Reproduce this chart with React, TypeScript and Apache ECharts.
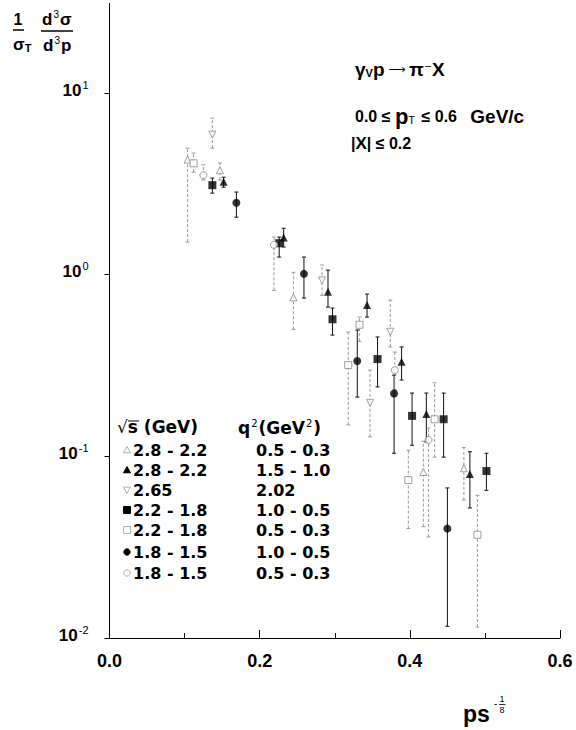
import React, { useEffect, useRef } from "react";
import * as echarts from "echarts";

// Legend categories
const sqrtSRanges = ["2.8 - 2.2", "2.8 - 2.2", "2.65", "2.2 - 1.8", "2.2 - 1.8", "1.8 - 1.5", "1.8 - 1.5"];
const q2Ranges = ["0.5 - 0.3", "1.5 - 1.0", "2.02", "1.0 - 0.5", "0.5 - 0.3", "1.0 - 0.5", "0.5 - 0.3"];

// Data points: [ps^(-1/8), value, errLow, errHigh]
const openTriangles = [
  [0.104, 4.3, 1.51, 4.97],
  [0.147, 3.76, 3.32, 4.12],
  [0.245, 0.75, 0.5, 1.03],
  [0.418, 0.082, 0.041, 0.121],
  [0.472, 0.086, 0.0575, 0.112],
];
const filledTriangles = [
  [0.152, 3.25, 3.03, 3.44],
  [0.232, 1.6, 1.42, 1.8],
  [0.291, 0.805, 0.663, 1.06],
  [0.343, 0.68, 0.584, 0.782],
  [0.389, 0.332, 0.263, 0.4],
  [0.422, 0.171, 0.12, 0.223],
  [0.48, 0.08, 0.052, 0.106],
];
const openInvTriangles = [
  [0.137, 5.9, 4.97, 7.27],
  [0.283, 0.93, 0.77, 1.13],
  [0.347, 0.197, 0.128, 0.298],
  [0.374, 0.485, 0.4, 0.725],
];
const filledSquares = [
  [0.137, 3.11, 2.81, 3.4],
  [0.226, 1.49, 1.25, 1.61],
  [0.297, 0.568, 0.465, 0.655],
  [0.357, 0.343, 0.241, 0.454],
  [0.403, 0.167, 0.115, 0.223],
  [0.445, 0.16, 0.099, 0.223],
  [0.502, 0.083, 0.065, 0.104],
];
const openSquares = [
  [0.112, 4.1, 3.67, 4.67],
  [0.318, 0.318, 0.149, 0.483],
  [0.333, 0.53, 0.43, 0.584],
  [0.398, 0.074, 0.04, 0.108],
  [0.433, 0.16, 0.099, 0.254],
  [0.49, 0.037, 0.0115, 0.061],
];
const filledCircles = [
  [0.169, 2.49, 2.07, 2.85],
  [0.259, 1.01, 0.743, 1.25],
  [0.33, 0.335, 0.212, 0.496],
  [0.379, 0.222, 0.104, 0.28],
  [0.45, 0.04, 0.0116, 0.067],
];
const openCircles = [
  [0.125, 3.53, 3.32, 4.02],
  [0.219, 1.46, 0.82, 1.61],
  [0.38, 0.298, 0.232, 0.375],
  [0.425, 0.123, 0.036, 0.143],
];

const xTickValues = [0, 0.2, 0.4, 0.6];
const yMin = 0.01;
const yMax = 10;

// Style per series (same order as legend rows)
const seriesData = [openTriangles, filledTriangles, openInvTriangles, filledSquares, openSquares, filledCircles, openCircles];
const seriesStyle = [
  { symbol: "triangle", rotate: 0, filled: false },
  { symbol: "triangle", rotate: 0, filled: true },
  { symbol: "triangle", rotate: 180, filled: false },
  { symbol: "rect", rotate: 0, filled: true },
  { symbol: "rect", rotate: 0, filled: false },
  { symbol: "circle", rotate: 0, filled: true },
  { symbol: "circle", rotate: 0, filled: false },
];

const NARROW = "'Liberation Sans Narrow', 'Liberation Sans', Arial, sans-serif";
const SANS = "'Liberation Sans', Arial, sans-serif";
const WIDE = "'DejaVu Sans', sans-serif";

function errorBarSeries(pts: number[][], filled: boolean) {
  const color = filled ? "#111" : "#9a9a9a";
  return {
    type: "custom",
    silent: true,
    z: 1,
    data: pts.map((p) => [p[0], p[2], p[3]]),
    encode: { x: 0, y: [1, 2] },
    renderItem: (_params: any, api: any) => {
      const x = api.value(0);
      const a = api.coord([x, api.value(1)]);
      const b = api.coord([x, api.value(2)]);
      const w = 2;
      const st = { stroke: color, lineWidth: 1, lineDash: filled ? null : [3, 2] };
      const cap = { stroke: color, lineWidth: 1 };
      return {
        type: "group",
        children: [
          { type: "line", shape: { x1: a[0], y1: a[1], x2: b[0], y2: b[1] }, style: st },
          { type: "line", shape: { x1: a[0] - w, y1: a[1], x2: a[0] + w, y2: a[1] }, style: cap },
          { type: "line", shape: { x1: b[0] - w, y1: b[1], x2: b[0] + w, y2: b[1] }, style: cap },
        ],
      };
    },
  };
}

function markerSeries(pts: number[][], st: { symbol: string; rotate: number; filled: boolean }) {
  return {
    type: "scatter",
    z: 3,
    silent: true,
    symbol: st.symbol,
    symbolRotate: st.rotate,
    symbolSize: st.filled ? 8 : 7,
    itemStyle: st.filled
      ? { color: "#000" }
      : { color: "#fff", borderColor: "#888", borderWidth: 1 },
    data: pts.map((p) => [p[0], p[1]]),
  };
}

function legendGraphics() {
  const rowsY = [450, 470, 490, 510, 530, 552, 573];
  const items: any[] = [];
  items.push({
    type: "text",
    left: 117,
    top: 418,
    style: {
      text: "{r|√}{o|s}{t| (GeV)}",
      rich: {
        r: { fontFamily: WIDE, fontSize: 17, fill: "#000" },
        o: { fontFamily: WIDE, fontSize: 17, fontWeight: "bold", fill: "#000" },
        t: { fontFamily: WIDE, fontSize: 17, fontWeight: "bold", fill: "#000" },
      },
    },
  });
  items.push({ type: "line", shape: { x1: 128, y1: 421, x2: 139, y2: 421 }, style: { stroke: "#000", lineWidth: 1 } });
  items.push({
    type: "text",
    left: 238,
    top: 418,
    style: {
      text: "{t|q}{s|2}{t|(GeV}{s|2}{t|)}",
      rich: {
        t: { fontFamily: WIDE, fontSize: 17, fontWeight: "bold", fill: "#000" },
        s: { fontFamily: WIDE, fontSize: 10, fill: "#000", padding: [0, 1, 9, 1] },
      },
    },
  });
  rowsY.forEach((y, i) => {
    const st = seriesStyle[i];
    const fill = st.filled ? "#000" : "#fff";
    const stroke = st.filled ? "#000" : "#b0b0b0";
    const cx = 127;
    if (st.symbol === "triangle") {
      const s = 3.5;
      const pts =
        st.rotate === 0
          ? [[cx, y - s], [cx + s, y + s * 0.8], [cx - s, y + s * 0.8]]
          : [[cx, y + s], [cx + s, y - s * 0.8], [cx - s, y - s * 0.8]];
      items.push({ type: "polygon", shape: { points: pts }, style: { fill, stroke, lineWidth: 1 } });
    } else if (st.symbol === "rect") {
      items.push({ type: "rect", shape: { x: cx - 3.5, y: y - 3.5, width: 7, height: 7 }, style: { fill, stroke, lineWidth: 1 } });
    } else {
      items.push({ type: "circle", shape: { cx, cy: y, r: 3.2 }, style: { fill, stroke, lineWidth: 1 } });
    }
    items.push({
      type: "text",
      x: 133,
      y,
      style: { text: sqrtSRanges[i], fontFamily: WIDE, fontSize: 16, fontWeight: "bold", fill: "#000", verticalAlign: "middle" },
    });
    items.push({
      type: "text",
      x: 256,
      y,
      style: { text: q2Ranges[i], fontFamily: WIDE, fontSize: 16, fontWeight: "bold", fill: "#000", verticalAlign: "middle" },
    });
  });
  return items;
}

function otherGraphics() {
  const items: any[] = [];
  // y axis extension above the top decade
  items.push({ type: "line", shape: { x1: 109.5, y1: 3, x2: 109.5, y2: 93 }, style: { stroke: "#000", lineWidth: 1 } });
  // Y axis title: 1/σT d³σ/d³p
  const b = { fontFamily: SANS, fontSize: 16, fontWeight: "bold", fill: "#000" };
  items.push({ type: "text", x: 18, y: 19, style: { ...b, text: "1", align: "center", verticalAlign: "middle" } });
  items.push({ type: "line", shape: { x1: 13, y1: 30, x2: 24, y2: 30 }, style: { stroke: "#000", lineWidth: 1.5 } });
  items.push({
    type: "text",
    x: 13,
    y: 44,
    style: {
      text: "{a|σ}{s|T}",
      verticalAlign: "middle",
      rich: { a: { ...b, fontSize: 17 }, s: { ...b, fontSize: 11, padding: [7, 0, 0, 0] } },
    },
  });
  items.push({
    type: "text",
    x: 42,
    y: 19,
    style: {
      text: "{a|d}{s|3}{a|σ}",
      verticalAlign: "middle",
      rich: { a: { ...b, fontSize: 17 }, s: { ...b, fontSize: 10, fontWeight: "normal", padding: [0, 1, 9, 1] } },
    },
  });
  items.push({ type: "line", shape: { x1: 41, y1: 31, x2: 73, y2: 31 }, style: { stroke: "#000", lineWidth: 1.5 } });
  items.push({
    type: "text",
    x: 43,
    y: 45,
    style: {
      text: "{a|d}{s|3}{a|p}",
      verticalAlign: "middle",
      rich: { a: { ...b, fontSize: 17 }, s: { ...b, fontSize: 10, fontWeight: "normal", padding: [0, 1, 9, 1] } },
    },
  });
  // Reaction annotation
  items.push({
    type: "text",
    x: 355,
    y: 69,
    style: {
      text: "{g|γ}{sub|V}{g|p}{ar| ⟶ }{g|π}{sup|–}{g|X}",
      verticalAlign: "middle",
      rich: {
        g: { fontFamily: SANS, fontSize: 19, fontWeight: "bold", fill: "#000" },
        sub: { fontFamily: SANS, fontSize: 11, fontWeight: "bold", fill: "#000", padding: [8, 0, 0, 0] },
        sup: { fontFamily: SANS, fontSize: 11, fill: "#000", padding: [0, 1, 9, 1] },
        ar: { fontFamily: WIDE, fontSize: 12, fill: "#000" },
      },
    },
  });
  items.push({
    type: "text",
    x: 355,
    y: 116,
    style: {
      text: "{n|0.0 ≤ }{p|p}{sub|T}{n| ≤ 0.6   }{G|GeV/c}",
      verticalAlign: "middle",
      rich: {
        n: { fontFamily: NARROW, fontSize: 16, fontWeight: "bold", fill: "#000" },
        p: { fontFamily: SANS, fontSize: 22, fontWeight: "bold", fill: "#000" },
        sub: { fontFamily: SANS, fontSize: 11, fill: "#000", padding: [8, 2, 0, 0] },
        G: { fontFamily: SANS, fontSize: 19, fontWeight: "bold", fill: "#000" },
      },
    },
  });
  items.push({
    type: "text",
    x: 351,
    y: 143,
    style: {
      text: "{n||}{X|X}{n|| ≤ 0.2}",
      verticalAlign: "middle",
      rich: {
        n: { fontFamily: NARROW, fontSize: 16, fontWeight: "bold", fill: "#000" },
        X: { fontFamily: SANS, fontSize: 17, fontWeight: "bold", fill: "#000" },
      },
    },
  });
  // x axis name: p s^(-1/8)
  items.push({
    type: "text",
    x: 463,
    y: 714,
    style: { text: "ps", fontFamily: SANS, fontSize: 23, fontWeight: "bold", fill: "#000", verticalAlign: "middle" },
  });
  items.push({ type: "text", x: 494, y: 703, style: { text: "-", fontFamily: SANS, fontSize: 10, fill: "#000", verticalAlign: "middle" } });
  items.push({ type: "text", x: 502, y: 699, style: { text: "1", fontFamily: SANS, fontSize: 9, fill: "#000", align: "center", verticalAlign: "middle" } });
  items.push({ type: "line", shape: { x1: 499, y1: 704.5, x2: 505.5, y2: 704.5 }, style: { stroke: "#000", lineWidth: 0.8 } });
  items.push({ type: "text", x: 502, y: 710, style: { text: "8", fontFamily: SANS, fontSize: 9, fill: "#000", align: "center", verticalAlign: "middle" } });
  return items;
}

export default function App() {
  const ref = useRef<HTMLDivElement>(null);
  useEffect(() => {
    const chart = echarts.init(ref.current!, null, { renderer: "svg" });
    const series: any[] = [];
    seriesData.forEach((pts, i) => {
      series.push(errorBarSeries(pts, seriesStyle[i].filled));
    });
    seriesData.forEach((pts, i) => {
      series.push(markerSeries(pts, seriesStyle[i]));
    });
    chart.setOption({
      animation: false,
      backgroundColor: "#fff",
      grid: { left: 109.5, right: 16, top: 93, bottom: 92, containLabel: false },
      xAxis: {
        type: "value",
        min: xTickValues[0],
        max: xTickValues[xTickValues.length - 1],
        interval: 0.2,
        splitLine: { show: false },
        axisLine: { lineStyle: { color: "#000", width: 1 } },
        axisTick: { inside: true, length: 8, lineStyle: { color: "#000" } },
        minorTick: { show: true, splitNumber: 2, length: 5, lineStyle: { color: "#000" } },
        axisLabel: {
          margin: 14,
          color: "#000",
          fontFamily: NARROW,
          fontSize: 18,
          fontWeight: "bold",
          formatter: (v: number) => v.toFixed(1),
        },
      },
      yAxis: {
        type: "log",
        logBase: 10,
        min: yMin,
        max: yMax,
        splitLine: { show: false },
        axisLine: { lineStyle: { color: "#000", width: 1 } },
        axisTick: { inside: false, length: 5, lineStyle: { color: "#000" } },
        minorTick: { show: false },
        axisLabel: {
          margin: 21,
          color: "#000",
          formatter: (v: number) => {
            const e = Math.round(Math.log10(v));
            return "{b|10}{s|" + e + "}";
          },
          rich: {
            b: { fontFamily: NARROW, fontSize: 17, fontWeight: "bold", color: "#000", padding: [0, 0, 6, 0] },
            s: { fontFamily: NARROW, fontSize: 11, color: "#000", padding: [0, 0, 17, 1] },
          },
        },
      },
      graphic: [...legendGraphics(), ...otherGraphics()],
      series,
    });
    return () => chart.dispose();
  }, []);
  return (
    <div
      ref={ref}
      style={{ position: "absolute", left: 0, top: 0, width: 576, height: 730, background: "#fff" }}
    />
  );
}
